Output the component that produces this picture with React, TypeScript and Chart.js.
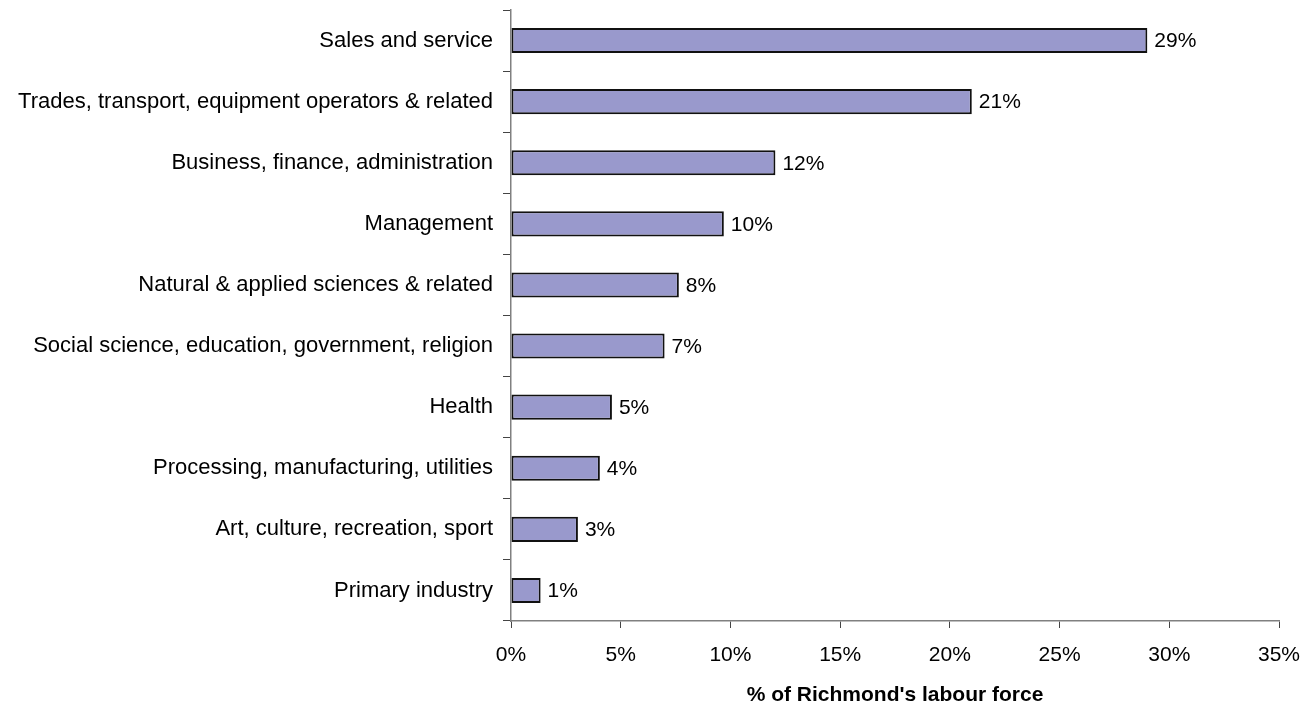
import React, { useEffect, useRef } from "react";
import { Chart, registerables } from "chart.js";

Chart.register(...registerables);

const categories = [
  "Sales and service",
  "Trades, transport, equipment operators & related",
  "Business, finance, administration",
  "Management",
  "Natural & applied sciences & related",
  "Social science, education, government, religion",
  "Health",
  "Processing, manufacturing, utilities",
  "Art, culture, recreation, sport",
  "Primary industry",
];

const values = [29.0, 21.0, 12.05, 9.7, 7.65, 7.0, 4.6, 4.05, 3.05, 1.35];

const valueLabels = ["29%", "21%", "12%", "10%", "8%", "7%", "5%", "4%", "3%", "1%"];

const xTickMin = 0;
const xTickMax = 35;
const xTickStep = 5;

const axisTitle = "% of Richmond's labour force";

const FONT = "'Liberation Sans', Arial, sans-serif";

export default function App() {
  const ref = useRef<HTMLCanvasElement | null>(null);

  useEffect(() => {
    document.body.style.margin = "0";
    const canvas = ref.current;
    if (!canvas) return;

    const labelPlugin = {
      id: "valueLabels",
      afterDatasetsDraw(chart: any) {
        const ctx = chart.ctx;
        const meta = chart.getDatasetMeta(0);
        ctx.save();
        ctx.font = `21px ${FONT}`;
        ctx.fillStyle = "#000";
        ctx.textAlign = "left";
        ctx.textBaseline = "middle";
        meta.data.forEach((el: any, i: number) => {
          ctx.fillText(valueLabels[i], el.x + 7, el.y + 1);
        });
        ctx.restore();
      },
    };

    const chart = new Chart(canvas, {
      type: "bar",
      data: {
        labels: categories,
        datasets: [
          {
            data: values,
            backgroundColor: "#9999CC",
            borderColor: "#111111",
            borderWidth: 2,
            borderSkipped: false,
            barPercentage: 0.41,
            categoryPercentage: 1,
          },
        ],
      },
      options: {
        indexAxis: "y",
        animation: false,
        responsive: false,
        devicePixelRatio: 1,
        layout: { padding: { top: 10, right: 31, bottom: 0, left: 0 } },
        plugins: {
          legend: { display: false },
          tooltip: { enabled: false },
        },
        scales: {
          x: {
            min: xTickMin,
            max: xTickMax,
            afterFit: (scale: any) => {
              scale.height = 87;
              scale.paddingLeft = 0;
              scale.paddingRight = 0;
            },
            grid: {
              drawOnChartArea: false,
              drawTicks: true,
              tickLength: 7,
              color: "#444",
            },
            border: { display: true, color: "#808080", width: 1.5 },
            ticks: {
              stepSize: xTickStep,
              padding: 15,
              color: "#000",
              font: { family: FONT, size: 21 },
              callback: (v: any) => `${v}%`,
            },
            title: {
              display: true,
              text: axisTitle,
              color: "#000",
              font: { family: FONT, size: 21, weight: "bold" },
              padding: { top: 14.6, bottom: 0 },
            },
          },
          y: {
            afterFit: (scale: any) => {
              scale.width = 511;
              scale.paddingTop = 0;
              scale.paddingBottom = 0;
            },
            grid: {
              drawOnChartArea: false,
              drawTicks: true,
              tickLength: 8,
              color: "#444",
              offset: true,
            },
            border: { display: true, color: "#808080", width: 1.5 },
            ticks: {
              padding: 10,
              color: "#000",
              font: { family: FONT, size: 22 },
              autoSkip: false,
            },
          },
        },
      },
      plugins: [labelPlugin],
    });

    return () => chart.destroy();
  }, []);

  return (
    <div style={{ width: 1310, height: 708 }}>
      <canvas ref={ref} width={1310} height={708} style={{ display: "block" }} />
    </div>
  );
}
